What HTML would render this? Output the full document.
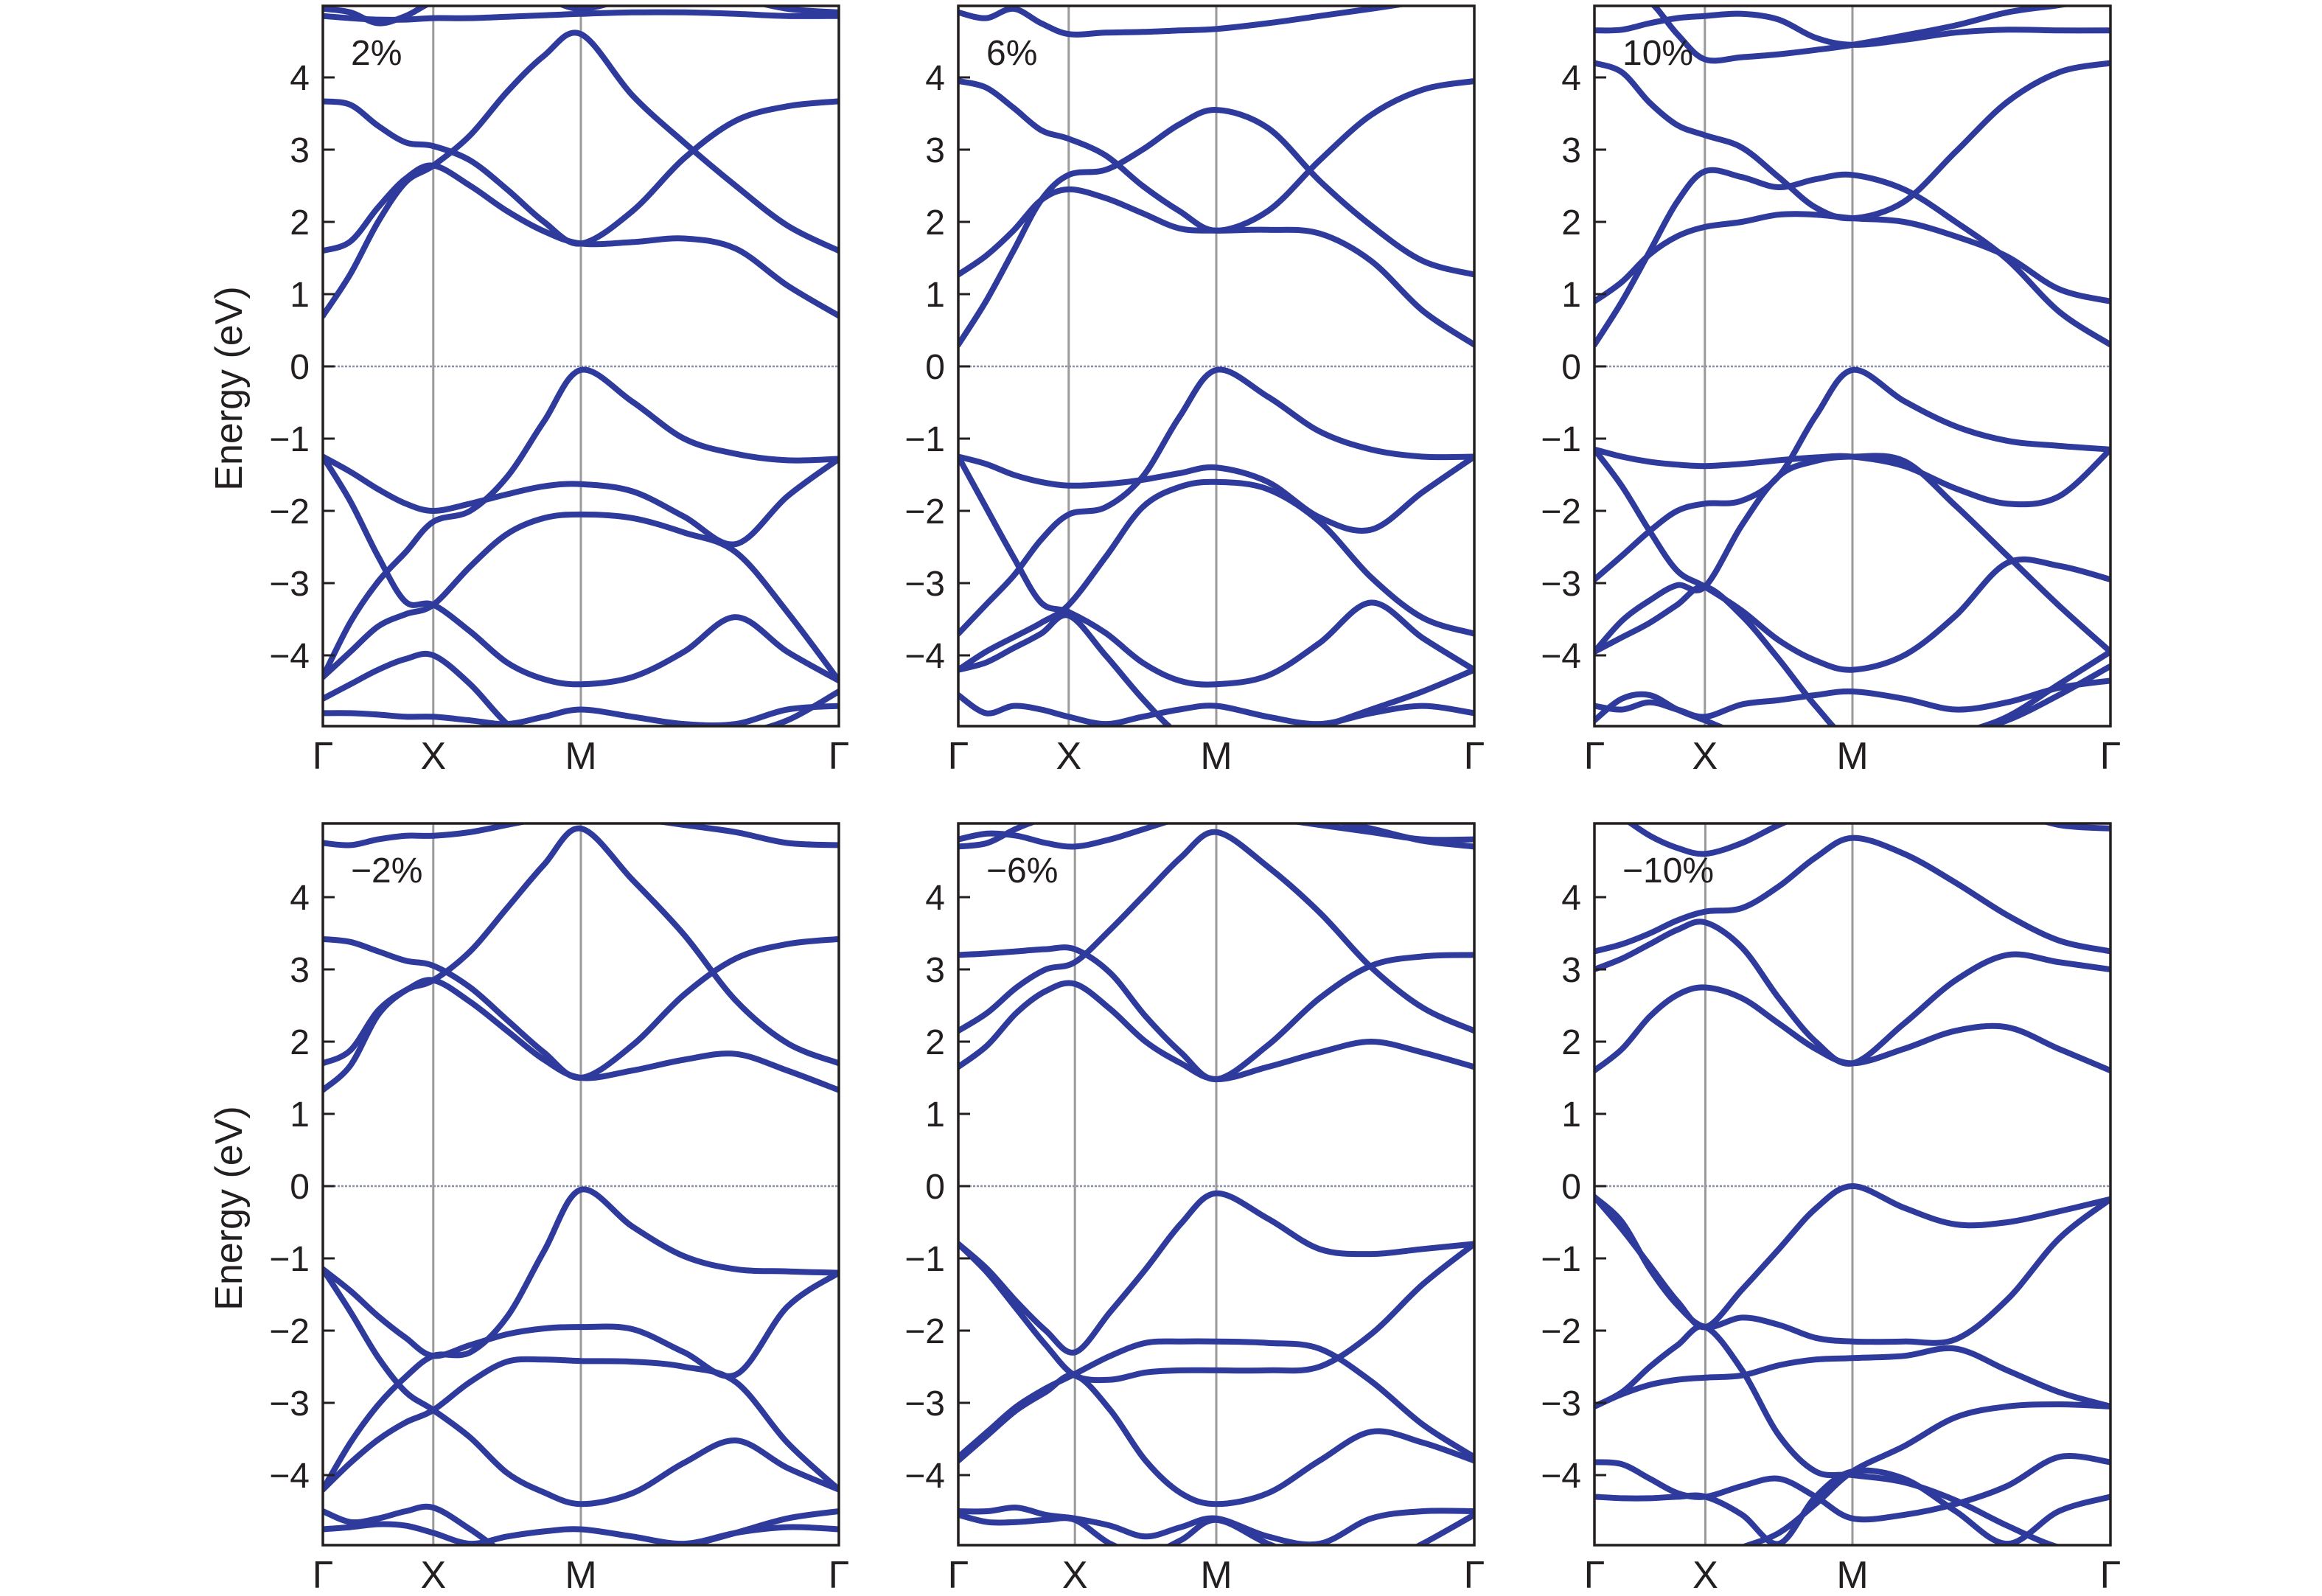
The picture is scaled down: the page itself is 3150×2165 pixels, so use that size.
<!DOCTYPE html>
<html><head><meta charset="utf-8">
<style>
html,body{margin:0;padding:0;background:#fff;}
svg{display:block;}
text{font-family:"Liberation Sans",sans-serif;fill:#231f20;}
</style></head>
<body>
<svg id="chart" width="3150" height="2165" viewBox="0 0 3150 2165" xmlns="http://www.w3.org/2000/svg">
<rect x="0" y="0" width="3150" height="2165" fill="#fff"/>
</svg>
<script>
// k-path grid: 0=Γ, 1=X, 2=M, 3=Γ
const kGrid = [0,0.25,0.5,0.75,1,1.25,1.5,1.75,2,2.2,2.4,2.6,2.8,3];
const kLabels = ["Γ","X","M","Γ"];
const yTicks = [-4,-3,-2,-1,0,1,2,3,4];
const strainLabels = ["2%","6%","10%","−2%","−6%","−10%"];

const bands2 = [
 [0.7,1.28,2.0,2.55,2.78,3.2,3.8,4.3,4.6,3.75,3.1,2.5,1.95,1.6],
 [1.6,1.73,2.2,2.6,2.78,2.5,2.15,1.87,1.7,1.72,1.77,1.63,1.12,0.7],
 [3.67,3.62,3.33,3.1,3.05,2.85,2.45,2.0,1.7,2.15,2.88,3.4,3.6,3.67],
 [4.85,4.82,4.8,4.8,4.82,4.82,4.84,4.86,4.88,4.9,4.9,4.88,4.85,4.85],
 [4.95,4.9,4.75,4.85,5.05,5.2,5.2,5.1,4.95,5.1,5.2,5.1,4.95,4.9],
 [-4.3,-3.54,-2.98,-2.57,-2.15,-2.0,-1.53,-0.76,-0.05,-0.49,-1.0,-1.21,-1.3,-1.28],
 [-1.25,-1.46,-1.7,-1.9,-2.0,-1.9,-1.77,-1.66,-1.63,-1.73,-2.08,-2.46,-1.8,-1.28],
 [-1.25,-1.87,-2.63,-3.26,-3.3,-3.67,-4.1,-4.33,-4.4,-4.3,-3.95,-3.47,-3.95,-4.35],
 [-4.3,-3.95,-3.6,-3.43,-3.3,-2.77,-2.32,-2.1,-2.05,-2.1,-2.3,-2.57,-3.4,-4.35],
 [-4.6,-4.4,-4.2,-4.05,-4.0,-4.4,-4.95,-5.3,-5.4,-5.3,-5.2,-5.1,-4.9,-4.5],
 [-4.8,-4.8,-4.82,-4.85,-4.85,-4.9,-4.95,-4.85,-4.75,-4.85,-4.95,-4.95,-4.75,-4.7]
];
const bands6 = [
 [0.3,0.9,1.6,2.3,2.65,2.72,3.0,3.35,3.55,3.3,2.57,1.95,1.46,1.27],
 [1.27,1.53,1.88,2.3,2.45,2.33,2.12,1.91,1.88,1.89,1.84,1.46,0.77,0.3],
 [3.95,3.86,3.58,3.27,3.15,2.92,2.5,2.15,1.88,2.15,2.85,3.48,3.83,3.95],
 [4.9,4.82,4.95,4.75,4.6,4.62,4.63,4.65,4.67,4.75,4.85,4.95,5.05,5.1],
 [-3.7,-3.3,-2.9,-2.4,-2.05,-1.95,-1.53,-0.7,-0.05,-0.42,-0.9,-1.15,-1.25,-1.25],
 [-1.25,-1.35,-1.5,-1.6,-1.65,-1.63,-1.57,-1.48,-1.4,-1.6,-2.09,-2.26,-1.74,-1.25],
 [-1.25,-1.95,-2.64,-3.27,-3.4,-3.69,-4.1,-4.35,-4.4,-4.28,-3.83,-3.27,-3.76,-4.2],
 [-4.2,-3.95,-3.75,-3.55,-3.3,-2.64,-1.95,-1.67,-1.6,-1.7,-2.15,-2.92,-3.48,-3.7],
 [-4.2,-4.1,-3.9,-3.7,-3.45,-4.0,-4.6,-5.1,-5.3,-5.2,-5.0,-4.75,-4.5,-4.2],
 [-4.55,-4.8,-4.7,-4.75,-4.85,-4.95,-4.85,-4.75,-4.7,-4.85,-4.95,-4.8,-4.7,-4.8]
];
const bands10 = [
 [0.3,0.9,1.59,2.28,2.7,2.62,2.48,2.59,2.65,2.45,2.0,1.48,0.76,0.3],
 [0.9,1.17,1.55,1.8,1.93,2.0,2.1,2.1,2.05,2.0,1.8,1.52,1.07,0.9],
 [4.2,4.07,3.65,3.34,3.2,3.03,2.62,2.2,2.05,2.28,2.97,3.66,4.07,4.2],
 [4.65,4.66,4.75,4.82,4.85,4.88,4.8,4.55,4.45,4.52,4.62,4.66,4.65,4.65],
 [5.3,5.2,5.05,4.6,4.25,4.28,4.32,4.38,4.45,4.58,4.72,4.9,5.0,5.1],
 [-2.95,-2.62,-2.28,-2.0,-1.9,-1.86,-1.52,-0.69,-0.05,-0.48,-0.83,-1.03,-1.1,-1.15],
 [-1.15,-1.25,-1.32,-1.36,-1.38,-1.35,-1.3,-1.26,-1.25,-1.38,-1.69,-1.9,-1.8,-1.15],
 [-1.15,-1.66,-2.28,-2.83,-3.05,-3.38,-3.79,-4.07,-4.2,-4.0,-3.45,-2.72,-2.76,-2.95],
 [-3.95,-3.52,-3.24,-3.03,-3.05,-2.2,-1.52,-1.31,-1.25,-1.31,-1.93,-2.62,-3.31,-3.95],
 [-3.95,-3.75,-3.55,-3.3,-3.05,-3.45,-4.05,-4.7,-5.2,-5.3,-5.1,-4.85,-4.4,-3.95],
 [-4.7,-4.75,-4.65,-4.75,-4.85,-4.68,-4.62,-4.55,-4.5,-4.6,-4.75,-4.65,-4.45,-4.35],
 [-4.9,-4.6,-4.55,-4.75,-4.9,-5.1,-5.2,-5.3,-5.3,-5.2,-5.1,-4.9,-4.55,-4.15]
];
const bandsM2 = [
 [1.33,1.67,2.37,2.71,2.85,3.25,3.85,4.45,4.95,4.24,3.48,2.57,1.98,1.7],
 [1.7,1.88,2.43,2.71,2.85,2.55,2.15,1.75,1.5,1.6,1.75,1.83,1.6,1.33],
 [3.42,3.38,3.25,3.12,3.05,2.75,2.3,1.85,1.5,1.95,2.65,3.15,3.35,3.42],
 [4.75,4.72,4.8,4.85,4.85,4.9,5.0,5.1,5.2,5.1,5.0,4.9,4.75,4.72],
 [-4.2,-3.55,-3.03,-2.64,-2.35,-2.3,-1.81,-0.9,-0.05,-0.56,-0.97,-1.15,-1.18,-1.2],
 [-1.15,-1.45,-1.8,-2.1,-2.35,-2.2,-2.05,-1.97,-1.95,-1.98,-2.3,-2.61,-1.67,-1.2],
 [-1.15,-1.74,-2.37,-2.85,-3.1,-3.48,-3.97,-4.24,-4.4,-4.25,-3.83,-3.52,-3.9,-4.2],
 [-4.2,-3.83,-3.51,-3.27,-3.1,-2.71,-2.43,-2.4,-2.42,-2.43,-2.5,-2.71,-3.55,-4.2],
 [-4.5,-4.65,-4.6,-4.5,-4.45,-4.75,-5.1,-5.3,-5.4,-5.2,-5.0,-4.8,-4.6,-4.5],
 [-4.75,-4.72,-4.68,-4.7,-4.8,-4.95,-4.85,-4.78,-4.75,-4.85,-4.95,-4.8,-4.72,-4.75]
];
const bandsM6 = [
 [2.15,2.4,2.75,3.0,3.1,3.55,4.05,4.55,4.9,4.42,3.79,3.03,2.47,2.15],
 [1.65,1.95,2.4,2.7,2.8,2.45,2.0,1.7,1.48,1.65,1.85,2.0,1.85,1.65],
 [3.2,3.22,3.25,3.28,3.28,2.95,2.35,1.85,1.48,1.95,2.6,3.05,3.18,3.2],
 [4.8,4.88,4.85,4.75,4.7,4.8,4.95,5.1,5.2,5.1,5.0,4.9,4.8,4.8],
 [4.7,4.75,4.95,5.1,5.2,5.2,5.2,5.2,5.2,5.2,5.1,4.95,4.78,4.7],
 [-0.8,-1.15,-1.6,-2.0,-2.3,-1.74,-1.15,-0.52,-0.1,-0.45,-0.87,-0.94,-0.87,-0.8],
 [-0.8,-1.2,-1.7,-2.2,-2.62,-2.68,-2.58,-2.55,-2.55,-2.55,-2.5,-2.05,-1.36,-0.8],
 [-3.75,-3.4,-3.05,-2.8,-2.6,-2.35,-2.17,-2.15,-2.15,-2.17,-2.25,-2.7,-3.3,-3.75],
 [-3.8,-3.45,-3.1,-2.85,-2.62,-3.1,-3.8,-4.25,-4.4,-4.25,-3.8,-3.4,-3.55,-3.8],
 [-4.5,-4.5,-4.45,-4.55,-4.6,-4.7,-4.85,-4.72,-4.6,-4.85,-4.95,-4.6,-4.5,-4.5],
 [-4.55,-4.65,-4.65,-4.62,-4.62,-4.95,-5.1,-4.9,-4.62,-4.95,-5.2,-5.3,-4.95,-4.55]
];
const bandsM10 = [
 [3.25,3.35,3.5,3.68,3.8,3.85,4.15,4.55,4.82,4.6,4.2,3.75,3.4,3.25],
 [3.0,3.15,3.35,3.55,3.65,3.3,2.6,2.0,1.7,2.25,2.85,3.2,3.1,3.0],
 [1.6,1.9,2.35,2.65,2.75,2.6,2.25,1.9,1.7,1.9,2.15,2.2,1.9,1.6],
 [5.3,5.1,4.85,4.68,4.6,4.75,5.0,5.2,5.3,5.3,5.3,5.2,5.0,4.95],
 [-0.15,-0.6,-1.1,-1.6,-1.95,-1.43,-0.87,-0.31,0.0,-0.3,-0.53,-0.5,-0.35,-0.18],
 [-0.15,-0.5,-1.15,-1.65,-1.95,-1.82,-1.92,-2.1,-2.15,-2.15,-2.12,-1.57,-0.73,-0.18],
 [-3.05,-2.85,-2.5,-2.2,-1.95,-2.55,-3.45,-3.95,-4.0,-4.1,-4.35,-4.7,-5.0,-5.1],
 [-3.05,-2.88,-2.75,-2.68,-2.65,-2.62,-2.48,-2.4,-2.38,-2.35,-2.25,-2.55,-2.85,-3.05],
 [-3.82,-3.85,-4.05,-4.25,-4.3,-4.15,-4.05,-4.3,-4.6,-4.55,-4.4,-4.15,-3.75,-3.82],
 [-4.3,-4.32,-4.32,-4.3,-4.3,-4.55,-4.95,-4.3,-3.95,-4.05,-4.5,-4.95,-4.5,-4.3],
 [-5.6,-5.5,-5.4,-5.3,-5.2,-5.0,-4.8,-4.4,-3.95,-3.6,-3.2,-3.05,-3.02,-3.05]
];
const panelBands = [bands2,bands6,bands10,bandsM2,bandsM6,bandsM10];

// layout (pixel geometry, not data)
const layouts = [
 {left:438, top:8,   w:700, h:977, zero:497,  xf:0.214, ylabel:true},
 {left:1300,top:8,   w:700, h:977, zero:497,  xf:0.214},
 {left:2163,top:8,   w:700, h:977, zero:497,  xf:0.214},
 {left:438, top:1117,w:700, h:979, zero:1609, xf:0.214, ylabel:true},
 {left:1300,top:1117,w:700, h:979, zero:1609, xf:0.226},
 {left:2163,top:1117,w:700, h:979, zero:1609, xf:0.215}
];
const PX_PER_EV = 98;
const NS = "http://www.w3.org/2000/svg";
const svg = document.getElementById("chart");
function mk(tag, attrs, parent){ const e=document.createElementNS(NS,tag); for(const k in attrs) e.setAttribute(k,attrs[k]); (parent||svg).appendChild(e); return e; }

layouts.forEach((L,pi)=>{
  const g = mk("g",{});
  
  
  const xOf = k => { let f; if(k<=1) f=k*L.xf; else if(k<=2) f=L.xf+(k-1)*(0.5-L.xf); else f=0.5+(k-2)*0.5; return L.left+f*L.w; };
  const yOf = e => L.zero - e*PX_PER_EV;
  const cid = "clip"+pi;
  const cp = mk("clipPath",{id:cid},g); mk("rect",{x:L.left,y:L.top,width:L.w,height:L.h},cp);
  const zl = mk("line",{x1:L.left,x2:L.left+L.w,y1:yOf(0),y2:yOf(0),stroke:"#8a8fa8","stroke-width":2.5,"stroke-dasharray":"3 2"},g);
  
  
  [1,2].forEach(k=>{
    const v = mk("line",{x1:xOf(k),x2:xOf(k),y1:L.top,y2:L.top+L.h,stroke:"#9a9a9a","stroke-width":3},g);
    
    
  });
  const bg = mk("g",{"clip-path":"url(#"+cid+")"},g);
  panelBands[pi].forEach((band,bi)=>{
    const pts = band.map((e,i)=>[xOf(kGrid[i]), yOf(e)]);
    let d = "M"+pts[0][0].toFixed(1)+","+pts[0][1].toFixed(1);
    for(let i=0;i<pts.length-1;i++){
      const p0=pts[Math.max(0,i-1)], p1=pts[i], p2=pts[i+1], p3=pts[Math.min(pts.length-1,i+2)];
      const c1=[p1[0]+(p2[0]-p0[0])/6, p1[1]+(p2[1]-p0[1])/6];
      const c2=[p2[0]-(p3[0]-p1[0])/6, p2[1]-(p3[1]-p1[1])/6];
      d+=" C"+c1[0].toFixed(1)+","+c1[1].toFixed(1)+" "+c2[0].toFixed(1)+","+c2[1].toFixed(1)+" "+p2[0].toFixed(1)+","+p2[1].toFixed(1);
    }
    const p = mk("path",{d:d,fill:"none",stroke:"#2f3b9c","stroke-width":8,"stroke-linecap":"round","stroke-linejoin":"round"},bg);
    
    
  });
  const fr = mk("rect",{x:L.left,y:L.top,width:L.w,height:L.h,fill:"none",stroke:"#231f20","stroke-width":3.5},g);
  
  
  yTicks.forEach(t=>{
    const y=yOf(t);
    const tk = mk("line",{x1:L.left,x2:L.left+16,y1:y,y2:y,stroke:"#231f20","stroke-width":3},g);
    
    
    const tx = mk("text",{x:L.left-18,y:y+17,"font-size":48,"text-anchor":"end"},g);
    tx.textContent = t<0 ? "−"+Math.abs(t) : String(t);
    
    
  });
  kLabels.forEach((lab,k)=>{
    const tx = mk("text",{x:xOf(k),y:L.top+L.h+58,"font-size":52,"text-anchor":"middle"},g);
    tx.textContent = lab;
    
    
  });
  const sl = mk("text",{x:L.left+38,y:L.top+80,"font-size":48},g);
  sl.textContent = strainLabels[pi];
  
  
  if(L.ylabel){
    const cy = L.zero+30;
    const yl = mk("text",{x:0,y:0,"font-size":52,"text-anchor":"middle",transform:"translate(328,"+cy+") rotate(-90)"},g);
    yl.textContent = "Energy (eV)";
    
    
  }
});
</script>
</body></html>
